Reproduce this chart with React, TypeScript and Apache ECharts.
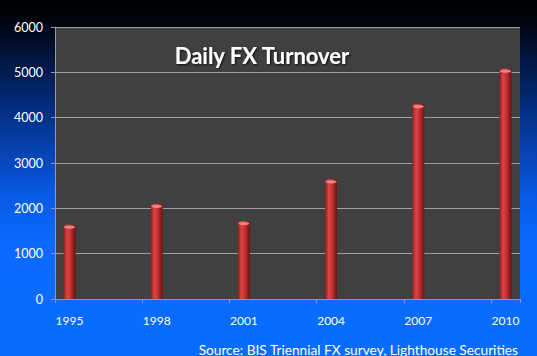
import React, { useEffect, useRef } from "react";
import * as echarts from "echarts";

const years = [
  "1995", "1996", "1997", "1998", "1999", "2000", "2001", "2002",
  "2003", "2004", "2005", "2006", "2007", "2008", "2009", "2010",
];
const surveyYears = ["1995", "1998", "2001", "2004", "2007", "2010"];
const turnover = [1640, 2100, 1720, 2640, 4300, 5080];
const yTicks = { min: 0, max: 6000, interval: 1000 };
const titleText = "Daily FX Turnover";
const sourceText = "Source: BIS Triennial FX survey, Lighthouse Securities";

export default function App() {
  const ref = useRef<HTMLDivElement>(null);
  useEffect(() => {
    document.body.style.margin = "0";
    const chart = echarts.init(ref.current!, null, { renderer: "svg" });
    const seriesData = years.map((y) => {
      const i = surveyYears.indexOf(y);
      return i >= 0 ? turnover[i] : null;
    });
    const font = "Lato, 'Open Sans', sans-serif";
    chart.setOption({
      animation: false,
      backgroundColor: new echarts.graphic.LinearGradient(0, 0, 0, 1, [
        { offset: 0, color: "#000000" },
        { offset: 0.06, color: "#00040e" },
        { offset: 0.3, color: "#032c7e" },
        { offset: 0.55, color: "#085ae4" },
        { offset: 0.68, color: "#0a6aff" },
        { offset: 1, color: "#0a6cff" },
      ]),
      grid: {
        left: 55,
        top: 27,
        right: 17,
        bottom: 57,
        show: true,
        backgroundColor: "#404040",
        borderWidth: 0,
      },
      xAxis: {
        type: "category",
        data: years,
        boundaryGap: true,
        axisLine: { lineStyle: { color: "#9a9a9a", width: 1 } },
        axisTick: { show: true, interval: 2, length: 4, lineStyle: { color: "#9a9a9a" } },
        axisLabel: {
          interval: 2,
          color: "#ffffff",
          fontFamily: font,
          fontSize: 12,
          margin: 15,
        },
      },
      yAxis: {
        type: "value",
        min: yTicks.min,
        max: yTicks.max,
        interval: yTicks.interval,
        axisLine: { show: true, lineStyle: { color: "#9a9a9a", width: 1 } },
        axisTick: { show: true, length: 4, lineStyle: { color: "#9a9a9a" } },
        splitLine: { lineStyle: { color: "#a0a0a0", width: 1 } },
        axisLabel: {
          color: "#ffffff",
          fontFamily: font,
          fontSize: 12.5,
          margin: 12,
          formatter: (v: number) => String(v),
        },
      },
      series: [
        {
          type: "bar",
          data: seriesData,
          barWidth: 12,
          itemStyle: {
            color: new echarts.graphic.LinearGradient(0, 0, 1, 0, [
              { offset: 0, color: "#8c1e1e" },
              { offset: 0.3, color: "#dc4444" },
              { offset: 0.55, color: "#c83434" },
              { offset: 1, color: "#6a1212" },
            ]),
          },
          z: 2,
        },
        {
          type: "pictorialBar",
          data: seriesData,
          symbol: "circle",
          symbolSize: [11, 3],
          symbolPosition: "end",
          symbolOffset: [0, 1],
          itemStyle: { color: "#ec8282" },
          z: 3,
        },
      ],
      graphic: [
        {
          type: "text",
          x: 262,
          y: 55,
          style: {
            text: titleText,
            fill: "#ffffff",
            font: `bold 22px ${font}`,
            textAlign: "center",
            textVerticalAlign: "middle",
            textShadowColor: "rgba(0,0,0,0.8)",
            textShadowBlur: 2,
            textShadowOffsetX: 1,
            textShadowOffsetY: 1,
          },
          z: 10,
        },
        {
          type: "text",
          x: 518,
          y: 349,
          style: {
            text: sourceText,
            fill: "#ffffff",
            font: `13.7px ${font}`,
            textAlign: "right",
            textVerticalAlign: "middle",
          },
          z: 10,
        },
      ],
    });
    return () => chart.dispose();
  }, []);
  return (
    <div
      ref={ref}
      style={{ position: "absolute", left: 0, top: 0, width: 537, height: 356 }}
    />
  );
}
